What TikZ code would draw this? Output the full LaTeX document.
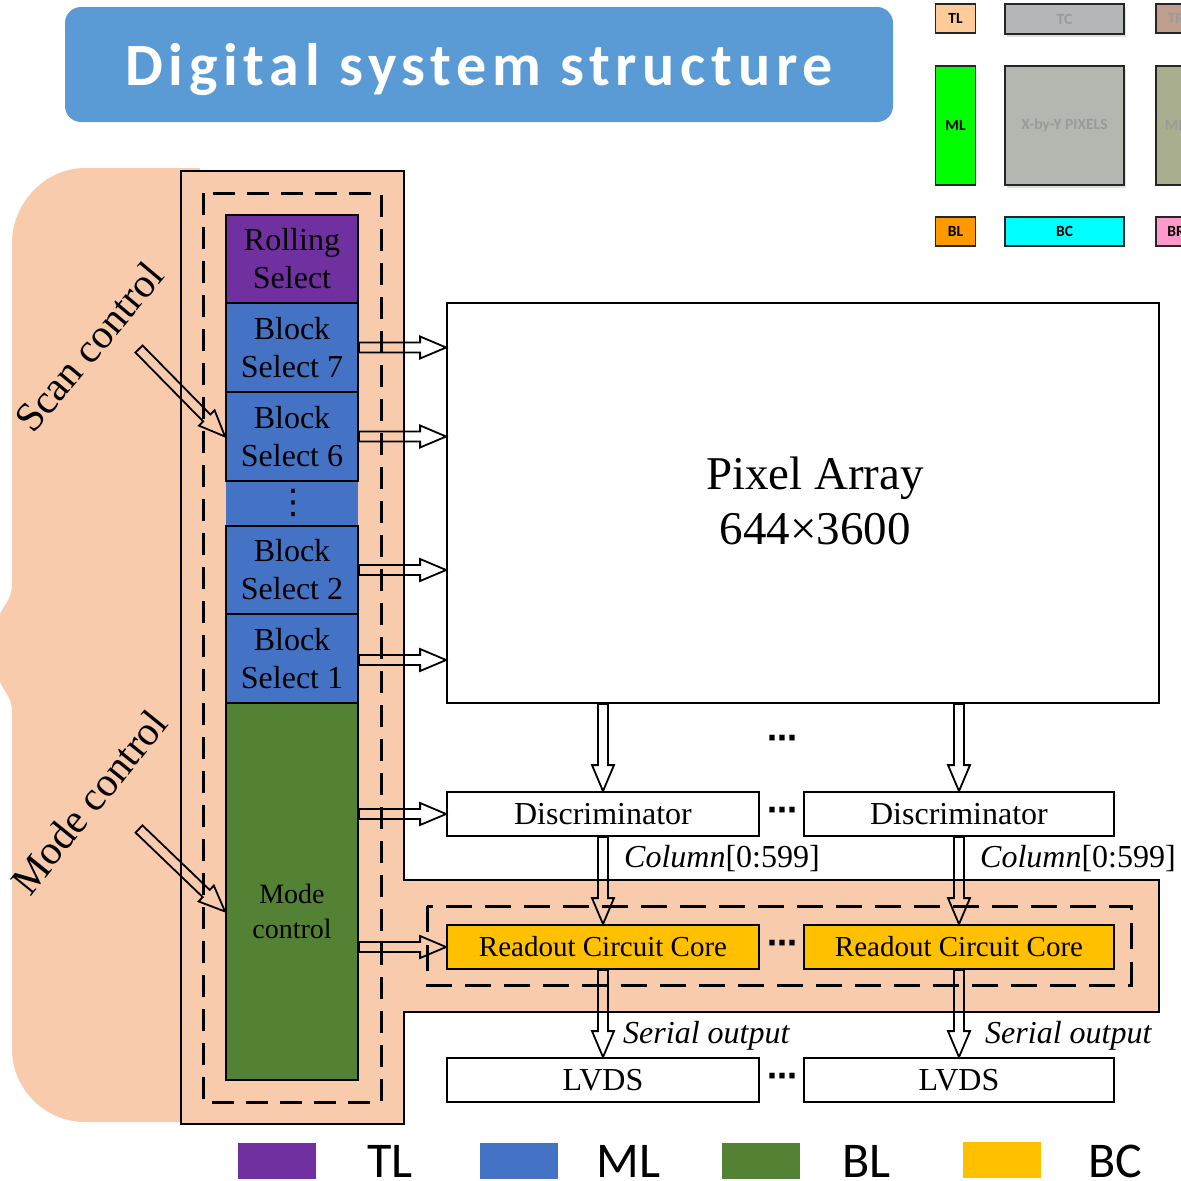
\documentclass[tikz,border=0pt]{standalone}
\usepackage{fontspec}
\setmainfont{Liberation Serif}
\newfontfamily\carlito{Carlito}
\newfontfamily\titlefont[LetterSpace=9.5]{Carlito}
\newfontfamily\symfont{DejaVu Sans}
\usetikzlibrary{calc}

\definecolor{peach}{HTML}{F8CBAD}
\definecolor{rollpurple}{HTML}{7030A0}
\definecolor{blockblue}{HTML}{4472C4}
\definecolor{modegreen}{HTML}{548235}
\definecolor{coreyellow}{HTML}{FFC000}
\definecolor{titleblue}{HTML}{5B9BD5}
\definecolor{legTL}{HTML}{FFCC99}
\definecolor{legTC}{HTML}{B4B7B7}
\definecolor{legTR}{HTML}{BFA08F}
\definecolor{legML}{HTML}{00FF00}
\definecolor{legMC}{HTML}{B4B7AF}
\definecolor{legMR}{HTML}{A9AE8E}
\definecolor{legBL}{HTML}{FF9900}
\definecolor{legBC}{HTML}{00FFFF}
\definecolor{legBR}{HTML}{FF99CC}
\definecolor{legtext}{HTML}{9A9A9A}

% hollow (outline) arrow between two points
\newcommand\hollowarrow[2]{%
  \coordinate (ha-s) at (#1);
  \coordinate (ha-e) at (#2);
  \coordinate (ha-h) at ($(ha-e)!26pt!(ha-s)$);
  \draw[harrow] ($(ha-s)!5pt!90:(ha-e)$) -- ($(ha-h)!5pt!90:(ha-e)$)
    -- ($(ha-h)!11pt!90:(ha-e)$) -- (ha-e) -- ($(ha-h)!11pt!-90:(ha-e)$)
    -- ($(ha-h)!5pt!-90:(ha-e)$) -- ($(ha-s)!5pt!-90:(ha-e)$) -- cycle;}

\tikzset{
  harrow/.style={draw=black, line width=1.8pt, line join=miter},
  box/.style={draw=black, line width=1.8pt, fill=white, inner sep=0pt,
    font=\fontsize{32}{38}\selectfont},
  blk/.style={draw=black, line width=2pt, inner sep=0pt, minimum width=132pt,
    align=center, font=\fontsize{32}{38}\selectfont},
  dashline/.style={draw=black, line width=3pt, dash pattern=on 22pt off 12pt},
  lbl/.style={inner sep=0pt, font=\fontsize{32}{38}\selectfont},
  hdots/.style={inner sep=0pt, font=\symfont\bfseries\fontsize{30}{30}\selectfont},
  leg/.style={draw=black!85, line width=1.2pt, inner sep=0pt,
    font=\carlito\bfseries\fontsize{15.5}{16}\selectfont},
  swatch/.style={inner sep=0pt, minimum width=78pt, minimum height=36pt},
  swtext/.style={inner sep=0pt, font=\carlito\fontsize{50}{50}\selectfont},
}

\begin{document}
\begin{tikzpicture}[x=1pt,y=-1pt]
\useasboundingbox (0,0) rectangle (1181,1181);
\clip (0,0) rectangle (1181,1181);
\fill[white] (0,0) rectangle (1181,1181);

% title banner
\node[fill=titleblue, rounded corners=16pt, minimum width=828pt, minimum height=115pt,
  inner sep=0pt, text depth=0pt, text=white,
  font=\titlefont\bfseries\fontsize{60}{64}\selectfont]
  (title) at (479,64.5) {Digital system structure};

% floor-plan key, top right
\fill[black!12] (1007,7) rectangle (1126,37);
\fill[black!12] (1007,69) rectangle (1126,188);
\node[leg, fill=legTL, minimum width=40pt, minimum height=29pt] (kTL) at (955.5,18.5) {TL};
\node[leg, fill=legTC, minimum width=119pt, minimum height=30pt, text=legtext] (kTC) at (1064.5,19) {TC};
\node[leg, fill=legTR, minimum width=40pt, minimum height=29pt, text=legtext] (kTR) at (1176,18.5) {TR};
\node[leg, fill=legML, minimum width=40pt, minimum height=119pt] (kML) at (955.5,125.5) {ML};
\node[leg, fill=legMC, minimum width=119pt, minimum height=119pt, text=legtext] (kMC) at (1064.5,125.5) {X-by-Y PIXELS};
\node[leg, fill=legMR, minimum width=40pt, minimum height=119pt, text=legtext] (kMR) at (1176,125.5) {MR};
\node[leg, fill=legBL, minimum width=40pt, minimum height=29pt] (kBL) at (955.5,231.5) {BL};
\node[leg, fill=legBC, minimum width=119pt, minimum height=29pt] (kBC) at (1064.5,231.5) {BC};
\node[leg, fill=legBR, minimum width=40pt, minimum height=29pt] (kBR) at (1176,231.5) {BR};

% brace-shaped control region
\fill[peach] (85,168) -- (200,168) -- (200,1122) -- (85,1122)
  .. controls (45,1122) and (12,1089) .. (12,1049) -- (12,713)
  .. controls (12,693) and (2,693) .. (-4,671) -- (-4,625)
  .. controls (2,603) and (12,603) .. (12,583) -- (12,243)
  .. controls (12,203) and (45,168) .. (85,168) -- cycle;

% L-shaped peripheral region
\draw[fill=peach, line width=2.8pt] (181,171) -- (404,171) -- (404,880) -- (1159,880)
  -- (1159,1012) -- (404,1012) -- (404,1124) -- (181,1124) -- cycle;
\draw[dashline] (203,193) rectangle (381,1102);
\draw[dashline, dash pattern=on 26pt off 13pt] (427,906) rectangle (1131,985);

% left column blocks
\node[fill=blockblue, minimum width=132pt, minimum height=45pt, inner sep=0pt] (gap) at (292,503.5) {};
\node[blk, fill=rollpurple, minimum height=88pt] (roll) at (292,259) {Rolling\\Select};
\node[blk, fill=blockblue, minimum height=89pt] (bs7) at (292,347.5) {Block\\Select 7};
\node[blk, fill=blockblue, minimum height=89pt] (bs6) at (292,436.5) {Block\\Select 6};
\node[inner sep=0pt, font=\symfont\fontsize{34}{34}\selectfont] (vd) at (293,503) {⋮};
\node[blk, fill=blockblue, minimum height=88pt] (bs2) at (292,570) {Block\\Select 2};
\node[blk, fill=blockblue, minimum height=89pt] (bs1) at (292,658.5) {Block\\Select 1};
\node[blk, fill=modegreen, minimum height=377pt] (mode) at (292,891.5) {};
\node[inner sep=0pt, align=center, font=\fontsize{28}{35}\selectfont] (modetext) at ([yshift=-20pt]mode.center) {Mode\\control};

% pixel array and column chain
\node[box, minimum width=712pt, minimum height=400pt] (pix) at (803,503) {};
\node[inner sep=0pt, align=center, font=\fontsize{47}{55}\selectfont]
  (pixtext) at ([xshift=12pt,yshift=2pt]pix.center) {Pixel Array\\644×3600};
\node[box, minimum width=312pt, minimum height=44pt] (discL) at (603,814) {Discriminator};
\node[box, minimum width=310pt, minimum height=44pt] (discR) at (959,814) {Discriminator};
\node[box, fill=coreyellow, minimum width=312pt, minimum height=44pt,
  font=\fontsize{29}{34}\selectfont] (rocL) at (603,947) {Readout Circuit Core};
\node[box, fill=coreyellow, minimum width=310pt, minimum height=44pt,
  font=\fontsize{29}{34}\selectfont] (rocR) at (959,947) {Readout Circuit Core};
\node[box, minimum width=312pt, minimum height=44pt] (lvdsL) at (603,1080) {LVDS};
\node[box, minimum width=310pt, minimum height=44pt] (lvdsR) at (959,1080) {LVDS};

\node[hdots] (dA) at (782,742) {⋯};
\node[hdots] (dB) at (782,814) {⋯};
\node[hdots] (dC) at (782,947) {⋯};
\node[hdots] (dD) at (782,1080) {⋯};

% control arrows into the pixel array and the column chain
\hollowarrow{bs7.east}{bs7.east -| pix.west}
\hollowarrow{bs6.east}{bs6.east -| pix.west}
\hollowarrow{bs2.east}{bs2.east -| pix.west}
\hollowarrow{[yshift=-1.5pt]bs1.east}{[yshift=-1.5pt]bs1.east -| pix.west}
\hollowarrow{mode.east |- discL.west}{discL.west}
\hollowarrow{mode.east |- rocL.west}{rocL.west}

\hollowarrow{pix.south -| discL.north}{discL.north}
\hollowarrow{pix.south -| discR.north}{discR.north}
\hollowarrow{discL.south}{rocL.north}
\hollowarrow{discR.south}{rocR.north}
\hollowarrow{rocL.south}{lvdsL.north}
\hollowarrow{rocR.south}{lvdsR.north}

\node[lbl, anchor=west] (colL) at ([xshift=21pt,yshift=-22pt]discL.south) {\textit{Column}[0:599]};
\node[lbl, anchor=west] (colR) at ([xshift=21pt,yshift=-22pt]discR.south) {\textit{Column}[0:599]};
\node[lbl, anchor=west] (serL) at ([xshift=20pt,yshift=21pt]lvdsL.north) {\textit{Serial output}};
\node[lbl, anchor=west] (serR) at ([xshift=26pt,yshift=21pt]lvdsR.north) {\textit{Serial output}};

% scan / mode control inputs
\node[inner sep=0pt, rotate=50, font=\fontsize{41}{41}\selectfont] (scanlbl) at (89,347) {Scan control};
\node[inner sep=0pt, rotate=51, font=\fontsize{41}{41}\selectfont] (modelbl) at (89,802) {Mode control};
\coordinate (scantail) at (139,349);
\coordinate (modetail) at (139,829);
\hollowarrow{scantail}{bs6.west}
\hollowarrow{modetail}{[yshift=-20pt]mode.west}

% colour key, bottom
\node[swatch, fill=rollpurple] (sTL) at (277,1161) {};
\node[swtext] (tTL) at (390,1161) {TL};
\node[swatch, fill=blockblue] (sML) at (518.5,1161) {};
\node[swtext] (tML) at (628.5,1161) {ML};
\node[swatch, fill=modegreen] (sBL) at (760.5,1161) {};
\node[swtext] (tBL) at (866.5,1161) {BL};
\node[swatch, fill=coreyellow] (sBC) at (1001.5,1159.5) {};
\node[swtext] (tBC) at (1115.5,1161) {BC};
\end{tikzpicture}
\end{document}
